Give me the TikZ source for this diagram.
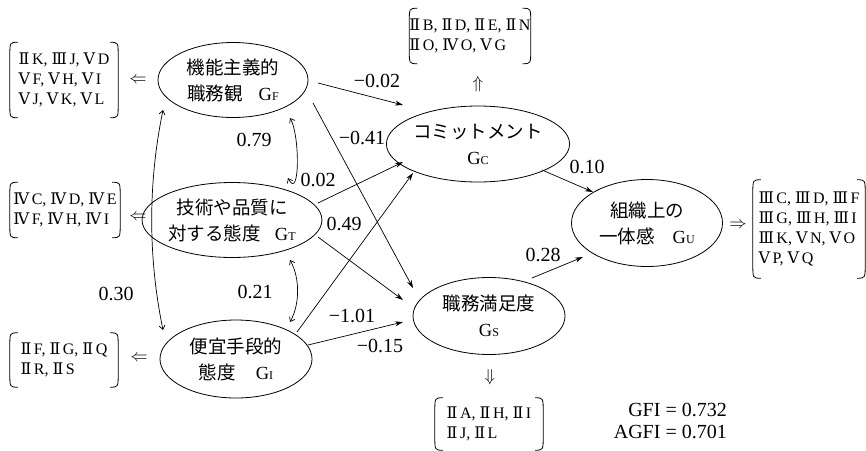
\documentclass[tikz,border=0pt]{standalone}
\usepackage{fontspec}
\setmainfont{Liberation Serif}
\newfontfamily\jpf{Noto Sans CJK JP}
\newfontfamily\rnf{DejaVu Serif}
\usetikzlibrary{arrows.meta,shapes.geometric}
\newcommand\RN[1]{{\rnf #1}\kern2.5pt}
\newcommand\Gsub[1]{{\rmfamily G{\fontsize{12}{12}\selectfont #1}}}
\newcommand\drawbrk[1]{%
\draw[brk] ([xshift=8pt]#1.north west) .. controls (#1.north west) .. ([yshift=-14pt]#1.north west) -- ([yshift=14pt]#1.south west) .. controls (#1.south west) .. ([xshift=8pt]#1.south west);
\draw[brk] ([xshift=-8pt]#1.north east) .. controls (#1.north east) .. ([yshift=-14pt]#1.north east) -- ([yshift=14pt]#1.south east) .. controls (#1.south east) .. ([xshift=-8pt]#1.south east);}
\begin{document}
\begin{tikzpicture}[x=1pt,y=-1pt,
 lat/.style={ellipse,draw,line width=0.8pt,inner sep=0pt,align=center,font=\jpf\fontsize{18.5}{26}\selectfont},
 lst/.style={inner sep=0pt,font=\fontsize{16}{20}\selectfont},
 num/.style={font=\fontsize{20}{20}\selectfont,inner sep=0pt},
 dbl/.style={font=\fontsize{19}{19}\selectfont,inner sep=0pt},
 arr/.style={-{Stealth[length=8pt,width=5pt]},line width=0.7pt},
 cor/.style={{Straight Barb[length=4pt,width=6pt]}-{Straight Barb[length=4pt,width=6pt]},line width=0.7pt},
 brk/.style={line width=0.8pt}]
\useasboundingbox (0,0) rectangle (866,450);

% latent variables
\node[lat,minimum width=150pt,minimum height=75pt] (GF) at (233,80) {機能主義的\\職務観\hspace{16pt}\Gsub{F}};
\node[lat,minimum width=146pt,minimum height=75pt] (GT) at (232,220) {技術や品質に\\対する態度\hspace{14pt}\Gsub{T}};
\node[lat,minimum width=152pt,minimum height=78pt] (GI) at (236,359) {便宜手段的\\態度\hspace{20pt}\Gsub{I}};
\node[lat,minimum width=150pt,minimum height=76pt] (GC) at (478,144) {コミットメント\\\Gsub{C}};
\node[lat,minimum width=152pt,minimum height=77pt] (GS) at (489,316) {職務満足度\\\Gsub{S}};
\node[lat,minimum width=151pt,minimum height=87pt] (GU) at (647,223) {組織上の\\一体感\hspace{18pt}\Gsub{U}};

% indicator lists
\node[lst,minimum width=108pt,minimum height=75pt] (LT) at (64,80) {\begin{tabular}{@{}l@{}}\RN{Ⅱ}K, \RN{Ⅲ}J, \RN{Ⅴ}D\\\RN{Ⅴ}F, \RN{Ⅴ}H, \RN{Ⅴ}I\\\RN{Ⅴ}J, \RN{Ⅴ}K, \RN{Ⅴ}L\end{tabular}};
\node[lst,minimum width=110pt,minimum height=55pt] (LM) at (65,210) {\begin{tabular}{@{}l@{}}\RN{Ⅳ}C, \RN{Ⅳ}D, \RN{Ⅳ}E\\\RN{Ⅳ}F, \RN{Ⅳ}H, \RN{Ⅳ}I\end{tabular}};
\node[lst,minimum width=108pt,minimum height=54pt] (LB) at (64,360) {\begin{tabular}{@{}l@{}}\RN{Ⅱ}F, \RN{Ⅱ}G, \RN{Ⅱ}Q\\\RN{Ⅱ}R, \RN{Ⅱ}S\end{tabular}};
\node[lst,minimum width=118pt,minimum height=55pt] (TP) at (470,36) {\begin{tabular}{@{}l@{}}\RN{Ⅱ}B, \RN{Ⅱ}D, \RN{Ⅱ}E, \RN{Ⅱ}N\\\RN{Ⅱ}O, \RN{Ⅳ}O, \RN{Ⅴ}G\end{tabular}};
\node[lst,minimum width=112pt,minimum height=98pt] (RT) at (809,229) {\begin{tabular}{@{}l@{}}\RN{Ⅲ}C, \RN{Ⅲ}D, \RN{Ⅲ}F\\\RN{Ⅲ}G, \RN{Ⅲ}H, \RN{Ⅲ}I\\\RN{Ⅲ}K, \RN{Ⅴ}N, \RN{Ⅴ}O\\\RN{Ⅴ}P, \RN{Ⅴ}Q\end{tabular}};
\node[lst,minimum width=108pt,minimum height=52pt] (BT) at (489,424) {\begin{tabular}{@{}l@{}}\RN{Ⅱ}A, \RN{Ⅱ}H, \RN{Ⅱ}I\\\RN{Ⅱ}J, \RN{Ⅱ}L\end{tabular}};
\drawbrk{LT}\drawbrk{LM}\drawbrk{LB}\drawbrk{TP}\drawbrk{RT}\drawbrk{BT}

% double arrows
\node[dbl] (dF) at (138,80) {$\Leftarrow$};
\node[dbl] (dT) at (138,217) {$\Leftarrow$};
\node[dbl] (dI) at (139,358) {$\Leftarrow$};
\node[dbl] (dC) at (478,84) {$\Uparrow$};
\node[dbl] (dU) at (738,225) {$\Rightarrow$};
\node[dbl] (dS) at (490,377) {$\Downarrow$};

% paths
\draw[arr] ([shift={(85,3)}]GF.center) -- ([shift={(-75,-39)}]GC.center);
\draw[arr] ([shift={(80,23)}]GF.center) -- ([shift={(-76,-28)}]GS.center);
\draw[arr] ([shift={(86,-17)}]GT.center) -- ([shift={(-75,18)}]GC.center);
\draw[arr] ([shift={(86,17)}]GT.center) -- ([shift={(-86,-16)}]GS.center);
\draw[arr] ([shift={(61,-27)}]GI.center) -- ([shift={(-65,29)}]GC.center);
\draw[arr] ([shift={(72,-14)}]GI.center) -- ([shift={(-86,6)}]GS.center);
\draw[arr] ([shift={(64,26)}]GC.center) -- ([shift={(-54,-31)}]GU.center);
\draw[arr] ([shift={(43,-38)}]GS.center) -- ([shift={(-64,34)}]GU.center);

% correlations
\draw[cor] ([shift={(57,38)}]GF.center) .. controls ([shift={(67,55)}]GF.center) and ([shift={(68,-18)}]GT.center) .. ([shift={(56,-42)}]GT.center);
\draw[cor] ([shift={(58,40)}]GT.center) .. controls ([shift={(68,58)}]GT.center) and ([shift={(64,-55)}]GI.center) .. ([shift={(54,-37)}]GI.center);
\draw[cor] ([shift={(-70,30)}]GF.center) .. controls ([shift={(-85,103)}]GF.center) and ([shift={(-88,-102)}]GI.center) .. ([shift={(-73,-29)}]GI.center);

% coefficients
\node[num] (c1) at (377,81) {−0.02};
\node[num] (c2) at (362,138) {−0.41};
\node[num] (c3) at (254,140) {0.79};
\node[num] (c4) at (318,180) {0.02};
\node[num] (c5) at (344,224) {0.49};
\node[num] (c6) at (255,292) {0.21};
\node[num] (c7) at (116,294) {0.30};
\node[num] (c8) at (352,316) {−1.01};
\node[num] (c9) at (380,346) {−0.15};
\node[num] (c10) at (587,167) {0.10};
\node[num] (c11) at (543,255) {0.28};
\node[num,anchor=east] (gfi) at (727,410) {GFI = 0.732};
\node[num,anchor=east] (agfi) at (727,432) {AGFI = 0.701};
\end{tikzpicture}
\end{document}
